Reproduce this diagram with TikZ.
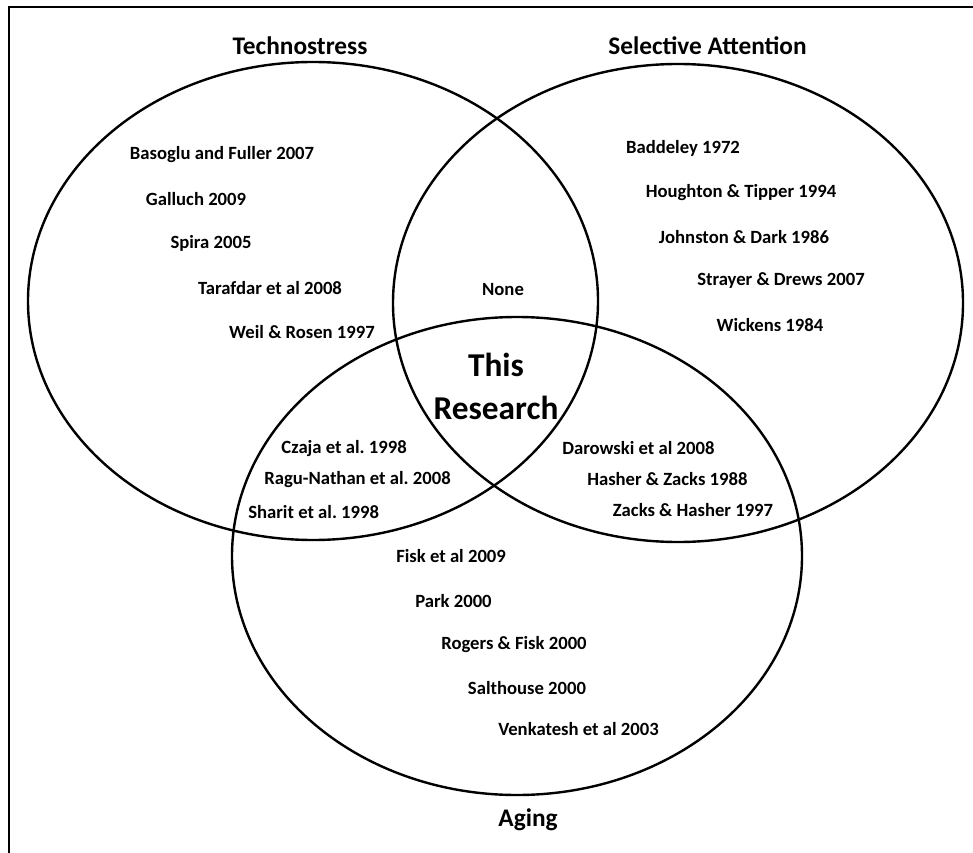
\documentclass[tikz,border=0pt]{standalone}
\usepackage{fontspec}
\setmainfont{Carlito}
\usetikzlibrary{shapes.geometric}
\begin{document}
\frenchspacing
\begin{tikzpicture}[x=0.75pt,y=-0.75pt,
  setring/.style={draw=black,line width=1.8pt,ellipse,inner sep=0pt,
    minimum width=427.5pt,minimum height=358.5pt},
  ref/.style={font=\bfseries\fontsize{14pt}{16pt}\selectfont,inner sep=0pt},
  settitle/.style={font=\bfseries\fontsize{19pt}{22pt}\selectfont,inner sep=0pt},
  core/.style={font=\bfseries\fontsize{25pt}{32.3pt}\selectfont,inner sep=0pt,align=center}]
\useasboundingbox (0,0) rectangle (973,852);
\fill[white] (0,0) rectangle (973,852);
% frame
\coordinate (fTL) at (9,7);
\coordinate (fTR) at (975,7);
\coordinate (fBL) at (9,854);
\draw[line width=1.75pt] (fBL) -- (fTL) -- (fTR);
% the three sets
\node[setring] (tech) at (313,301) {};
\node[setring] (attn) at (678,303) {};
\node[setring] (aging) at (517,556) {};
% set titles
\node[settitle,anchor=base] (tTech) at (300,55) {Technostress};
\node[settitle,anchor=base east] (tAttn) at (807,55) {Selective Attention};
\node[settitle] (tAging) at (528,820) {Aging};
% technostress only
\node[ref] (r1) at (222,155) {Basoglu and Fuller 2007};
\node[ref] (r2) at (196,199) {Galluch 2009};
\node[ref] (r3) at (211,243) {Spira 2005};
\node[ref] (r4) at (270,288) {Tarafdar et al 2008};
\node[ref] (r5) at (302,332) {Weil \& Rosen 1997};
% technostress and selective attention
\node[ref] (r6) at (503,290) {None};
% selective attention only
\node[ref] (r7) at (683,148) {Baddeley 1972};
\node[ref] (r8) at (741,193) {Houghton \& Tipper 1994};
\node[ref] (r9) at (744,237) {Johnston \& Dark 1986};
\node[ref] (r10) at (781,281) {Strayer \& Drews 2007};
\node[ref] (r11) at (770,325) {Wickens 1984};
% centre
\node[core] (centre) at (496,386) {This\\Research};
% technostress and aging
\node[ref,anchor=east] (r12) at (407,449) {Czaja et al. 1998};
\node[ref,anchor=east] (r13) at (451,480) {Ragu-Nathan et al. 2008};
\node[ref,anchor=west] (r14) at (248,512) {Sharit et al. 1998};
% selective attention and aging
\node[ref,anchor=west] (r15) at (562,448) {Darowski et al 2008};
\node[ref,anchor=west] (r16) at (587,479) {Hasher \& Zacks 1988};
\node[ref] (r17) at (693,510) {Zacks \& Hasher 1997};
% aging only
\node[ref,anchor=west] (r18) at (396,556) {Fisk et al 2009};
\node[ref,anchor=west] (r19) at (415,601) {Park 2000};
\node[ref] (r20) at (514,645) {Rogers \& Fisk 2000};
\node[ref] (r21) at (527,688) {Salthouse 2000};
\node[ref,anchor=west] (r22) at (498,729) {Venkatesh et al 2003};
\end{tikzpicture}
\end{document}
